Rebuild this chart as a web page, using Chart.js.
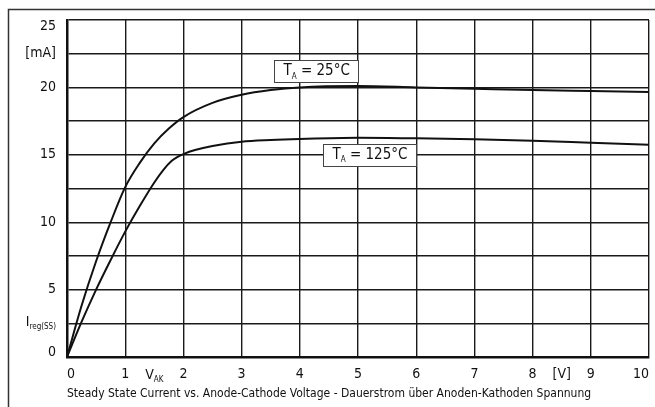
<!DOCTYPE html>
<html>
<head>
<meta charset="utf-8">
<script src="https://cdn.jsdelivr.net/npm/chart.js@4/dist/chart.umd.min.js"></script>
<style>
  html, body { margin: 0; padding: 0; background: #fff; }
  #wrap { width: 655px; height: 407px; position: relative; }
</style>
</head>
<body>
<div id="wrap"><canvas id="c" width="655" height="407"></canvas></div>
<script>
// ---- data ----
const voltage25 = [0, 0.25, 0.5, 0.75, 1.0, 1.25, 1.5, 1.75, 2, 2.5, 3, 3.5, 4, 5, 6, 7, 8, 9, 10];
const current25 = [0, 3.8, 7.1, 10.0, 12.6, 14.4, 15.85, 16.95, 17.8, 18.85, 19.45, 19.8, 20.0, 20.1, 20.0, 19.9, 19.8, 19.73, 19.66];
const voltage125 = [0, 0.25, 0.5, 0.75, 1.0, 1.25, 1.5, 1.65, 1.8, 1.9, 2.0, 2.2, 2.5, 3, 3.5, 4, 5, 6, 7, 8, 9, 10];
const current125 = [0, 2.6, 5.0, 7.2, 9.3, 11.2, 12.95, 13.85, 14.55, 14.85, 15.05, 15.35, 15.65, 15.97, 16.1, 16.18, 16.27, 16.22, 16.15, 16.05, 15.9, 15.75];

const xTickValues = [0, 1, 1.5, 2, 3, 4, 5, 6, 7, 8, 8.5, 9, 10];
const xTickLabels = ['0', '1', '', '2', '3', '4', '5', '6', '7', '8', '[V]', '9', '10'];
const yTickValues = [0, 2.5, 5, 7.5, 10, 12.5, 15, 17.5, 20, 22.5, 25];
const yTickLabels = ['0', '', '5', '', '10', '', '15', '', '20', '[mA]', '25'];

const seriesLabels = ['25°C', '125°C'];
const captionText = 'Steady State Current vs. Anode-Cathode Voltage - Dauerstrom über Anoden-Kathoden Spannung';

// annotation anchor values (data coordinates)
const annot25 = { x: 4.27, y: 21.2 };
const annot125 = { x: 5.19, y: 15.0 };

const FONT = '"DejaVu Sans Condensed", "DejaVu Sans", sans-serif';
const INK = '#111';
const Y_MIN = 0, Y_MAX = 25;

function toPoints(xs, ys) { return xs.map((x, i) => ({ x: x, y: ys[i] })); }

function drawSub(ctx, main, sub, x, y, align, size) {
  ctx.save();
  ctx.textBaseline = 'middle';
  ctx.font = size + 'px ' + FONT;
  const w1 = ctx.measureText(main).width;
  ctx.font = Math.round(size * 0.55) + 'px ' + FONT;
  const w2 = ctx.measureText(sub).width;
  const total = w1 + w2;
  let sx = align === 'right' ? x - total : (align === 'center' ? x - total / 2 : x);
  ctx.fillStyle = INK;
  ctx.textAlign = 'left';
  ctx.font = size + 'px ' + FONT;
  ctx.fillText(main, sx, y);
  ctx.font = Math.round(size * 0.55) + 'px ' + FONT;
  ctx.fillText(sub, sx + w1, y + size * 0.35);
  ctx.restore();
  return total;
}

function drawAnnot(ctx, chart, pos, rest) {
  const xs = chart.scales.x, ys = chart.scales.y;
  const cx = xs.getPixelForValue(pos.x), cy = ys.getPixelForValue(pos.y);
  const size = 15;
  ctx.save();
  ctx.font = size + 'px ' + FONT;
  const wT = ctx.measureText('T').width;
  ctx.font = Math.round(size * 0.55) + 'px ' + FONT;
  const wA = ctx.measureText('A').width;
  ctx.font = size + 'px ' + FONT;
  const wR = ctx.measureText(rest).width;
  const total = wT + wA + wR;
  const padX = 9;
  const bw = Math.round(total + padX * 2), bh = 22;
  const bx = Math.round(cx - bw / 2) + 0.5, by = Math.round(cy - bh / 2) + 0.5;
  ctx.fillStyle = '#fff';
  ctx.fillRect(bx, by, bw, bh);
  ctx.strokeStyle = '#444';
  ctx.lineWidth = 1;
  ctx.strokeRect(bx, by, bw, bh);
  const tx = bx + padX;
  ctx.fillStyle = INK;
  ctx.textBaseline = 'middle';
  ctx.textAlign = 'left';
  ctx.fillText('T', tx, cy);
  ctx.font = Math.round(size * 0.55) + 'px ' + FONT;
  ctx.fillText('A', tx + wT, cy + size * 0.35);
  ctx.font = size + 'px ' + FONT;
  ctx.fillText(rest, tx + wT + wA, cy);
  ctx.restore();
}

const extras = {
  id: 'extras',
  beforeDraw(chart) {
    const ctx = chart.ctx;
    ctx.save();
    ctx.fillStyle = '#fff';
    ctx.fillRect(0, 0, chart.width, chart.height);
    ctx.strokeStyle = '#333';
    ctx.lineWidth = 1.5;
    ctx.beginPath();
    ctx.moveTo(8.5, chart.height);
    ctx.lineTo(8.5, 9.5);
    ctx.lineTo(chart.width, 9.5);
    ctx.stroke();
    ctx.restore();
  },
  afterDraw(chart) {
    const ctx = chart.ctx;
    const xs = chart.scales.x, ys = chart.scales.y;
    // end labels of the y axis sit slightly inside the axis range
    ctx.save();
    ctx.font = '14px ' + FONT;
    ctx.fillStyle = INK;
    ctx.textAlign = 'right';
    ctx.textBaseline = 'middle';
    ctx.fillText(yTickLabels[0], xs.left - 11, ys.getPixelForValue(Y_MIN) - 5);
    ctx.fillText(yTickLabels[yTickLabels.length - 1], xs.left - 11, ys.getPixelForValue(Y_MAX) + 6);
    ctx.restore();
    drawSub(ctx, 'I', 'reg(SS)', xs.left - 11, ys.getPixelForValue(2.5) - 1, 'right', 14);
    drawSub(ctx, 'V', 'AK', xs.getPixelForValue(1.5), 375, 'center', 14);
    drawAnnot(ctx, chart, annot25, ' = ' + seriesLabels[0]);
    drawAnnot(ctx, chart, annot125, ' = ' + seriesLabels[1]);
  }
};

new Chart(document.getElementById('c'), {
  type: 'line',
  data: {
    datasets: [
      { label: seriesLabels[0], data: toPoints(voltage25, current25) },
      { label: seriesLabels[1], data: toPoints(voltage125, current125) }
    ]
  },
  options: {
    responsive: false,
    animation: false,
    devicePixelRatio: 1,
    layout: { padding: { top: 20, right: 6, left: 0, bottom: 0 } },
    elements: {
      point: { radius: 0 },
      line: { borderColor: '#111', borderWidth: 2, cubicInterpolationMode: 'monotone', fill: false }
    },
    plugins: { legend: { display: false }, tooltip: { enabled: false }, title: { display: false } },
    scales: {
      x: {
        type: 'linear', min: 0, max: 10,
        afterBuildTicks(scale) { scale.ticks = xTickValues.map(v => ({ value: v })); },
        afterFit(scale) { scale.height = 50; scale.paddingLeft = 0; scale.paddingRight = 0; },
        grid: {
          color: ctx => (ctx.tick && Number.isInteger(ctx.tick.value)) ? '#1a1a1a' : 'rgba(0,0,0,0)',
          lineWidth: 1.4, drawTicks: false
        },
        border: { color: '#111', width: 2.5 },
        ticks: {
          autoSkip: false, maxRotation: 0, padding: 9, color: INK, align: 'inner',
          font: { family: FONT, size: 14 },
          callback(v) { const i = xTickValues.indexOf(v); return i >= 0 ? xTickLabels[i] : ''; }
        },
        title: {
          display: true, text: captionText, align: 'start', color: INK,
          font: { family: FONT, size: 12 }, padding: { top: 0, bottom: 6 }
        }
      },
      y: {
        type: 'linear', min: Y_MIN, max: Y_MAX,
        afterBuildTicks(scale) { scale.ticks = yTickValues.map(v => ({ value: v })); },
        afterFit(scale) { scale.width = 67; scale.paddingTop = 0; scale.paddingBottom = 0; },
        grid: { color: '#1a1a1a', lineWidth: 1.4, drawTicks: false },
        border: { color: '#111', width: 2.5 },
        ticks: {
          autoSkip: false, padding: 11, color: INK,
          font: { family: FONT, size: 14 },
          callback(v) {
            if (v === Y_MIN || v === Y_MAX) return '';
            const i = yTickValues.indexOf(v); return i >= 0 ? yTickLabels[i] : '';
          }
        }
      }
    }
  },
  plugins: [extras]
});
</script>
</body>
</html>
